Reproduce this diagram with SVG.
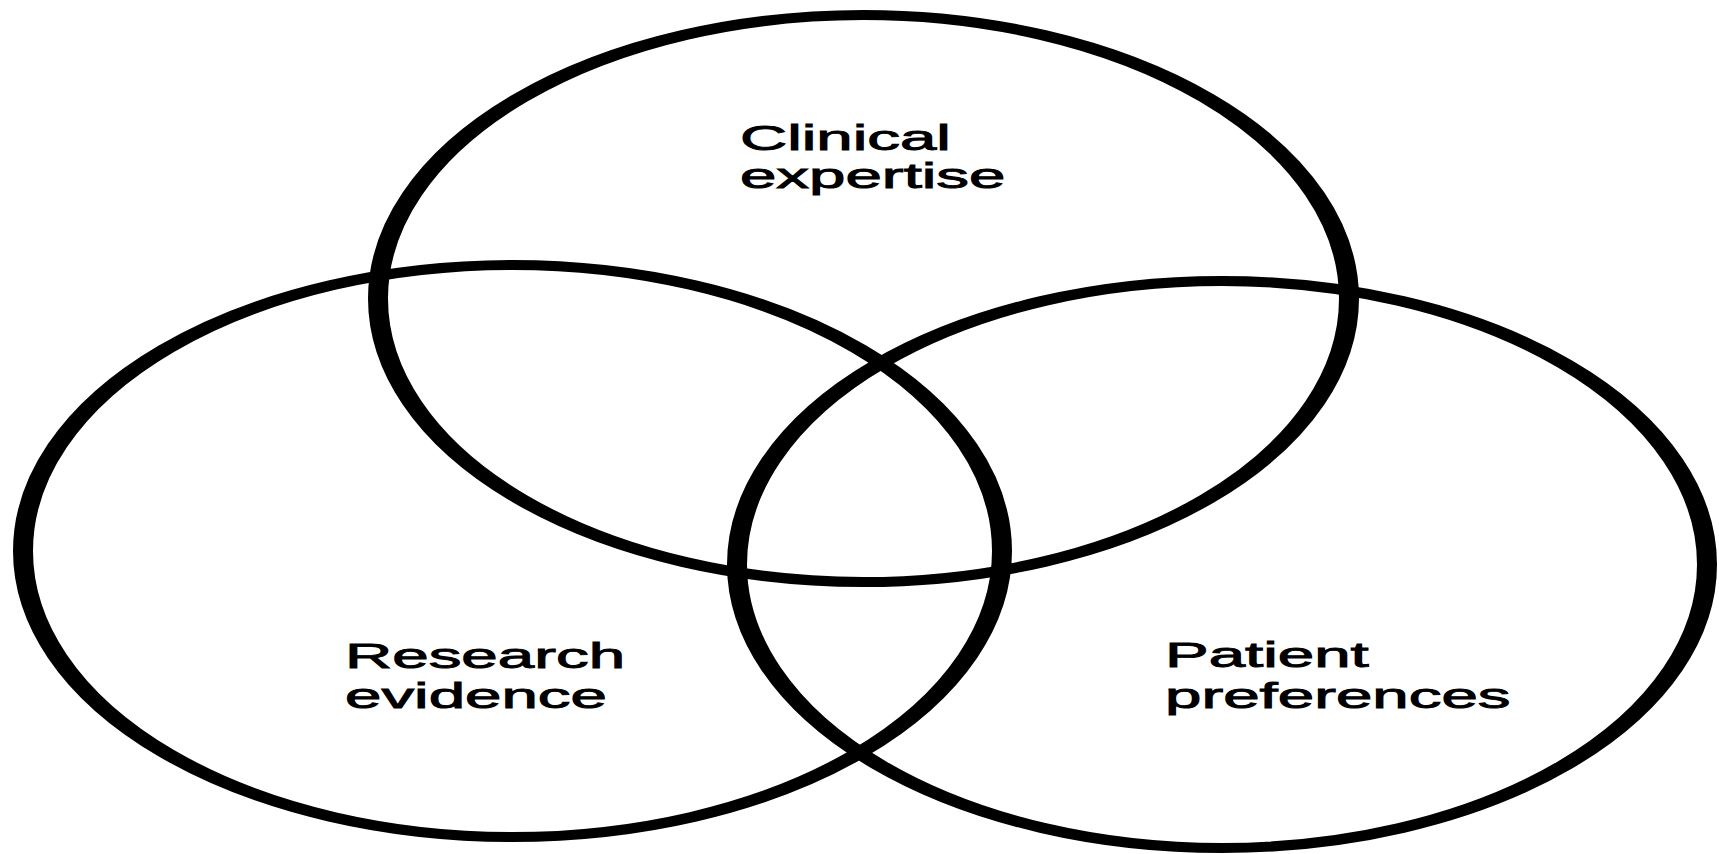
<svg xmlns="http://www.w3.org/2000/svg" width="1719" height="854" viewBox="0 0 1719 854">
<style>
.c{fill:none;stroke:#000;stroke-width:10}
.t{font-family:"Liberation Sans",Arial,sans-serif;font-size:35px;fill:#000;stroke:#000;stroke-width:0.9}
</style>
<rect width="1719" height="854" fill="#fff"/>
<g id="clinical">
<ellipse class="c" transform="scale(2,1)" cx="431.75" cy="298.5" rx="242.75" ry="283.5"/>
<g transform="scale(1.87,1)">
<text class="t" x="395.7" y="150">Clinical</text>
<text class="t" x="395.7" y="188">expertise</text>
</g>
</g>
<g id="research">
<ellipse class="c" transform="scale(2,1)" cx="256.25" cy="551" rx="244.75" ry="286"/>
<g transform="scale(1.87,1)">
<text class="t" x="184.5" y="668">Research</text>
<text class="t" x="184.5" y="708">evidence</text>
</g>
</g>
<g id="patient">
<ellipse class="c" transform="scale(2,1)" cx="611" cy="564.5" rx="242.5" ry="283.5"/>
<g transform="scale(1.87,1)">
<text class="t" x="623" y="667">Patient</text>
<text class="t" x="623" y="708">preferences</text>
</g>
</g>
<g id="connectors"/>
</svg>
